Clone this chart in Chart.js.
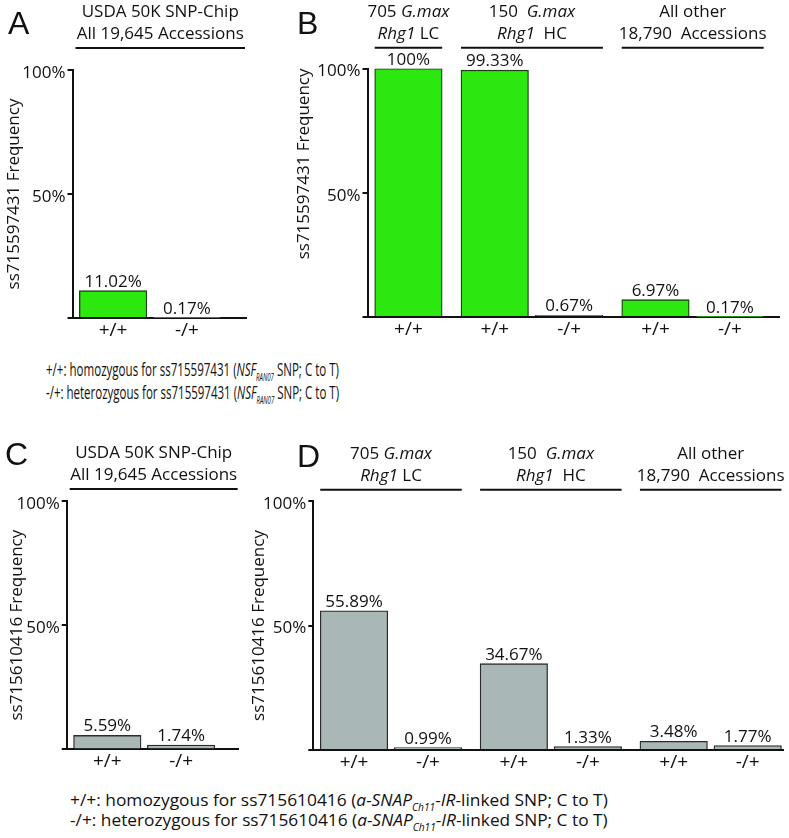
<!DOCTYPE html>
<html>
<head>
<meta charset="utf-8">
<script src="https://cdn.jsdelivr.net/npm/chart.js@4.4.1/dist/chart.umd.min.js"></script>
<style>
  html, body { margin: 0; padding: 0; background: #fff; }
  #fig { position: relative; width: 789px; height: 838px; overflow: hidden; font-family: 'Open Sans', sans-serif; color: #111; }
  #fig canvas { position: absolute; }
  .letter { position: absolute; font-family: 'Liberation Sans', Arial, sans-serif; font-size: 32px; line-height: 32px; }
  .note { position: absolute; font-size: 17px; line-height: 20px; white-space: nowrap; transform-origin: 0 50%; }
  .note.narrow { font-size: 19px; }
  .note sub { font-size: 10px; vertical-align: baseline; position: relative; top: 5px; font-style: italic; }
</style>
</head>
<body>
<div id="fig">
  <canvas id="chartA" width="280" height="345" style="left:0;top:0"></canvas>
  <canvas id="chartB" width="509" height="345" style="left:280px;top:0"></canvas>
  <canvas id="chartC" width="240" height="355" style="left:0;top:420px"></canvas>
  <canvas id="chartD" width="549" height="355" style="left:240px;top:420px"></canvas>

  <div class="letter" style="left:8px;top:7px">A</div>
  <div class="letter" style="left:297px;top:7px">B</div>
  <div class="letter" style="left:5px;top:438px">C</div>
  <div class="letter" style="left:297px;top:440px">D</div>

  <div class="note narrow" data-w="293" style="left:46px;top:359px">+/+: homozygous for ss715597431 (<i>NSF</i><sub>RAN07</sub> SNP; C to T)</div>
  <div class="note narrow" data-w="293" style="left:46px;top:382px">-/+: heterozygous for ss715597431 (<i>NSF</i><sub>RAN07</sub> SNP; C to T)</div>
  <div class="note" data-w="538" style="left:70px;top:790px">+/+: homozygous for ss715610416 (<i>a-SNAP</i><sub>Ch11</sub>-<i>IR</i>-linked SNP; C to T)</div>
  <div class="note" data-w="538" style="left:70px;top:810px">-/+: heterozygous for ss715610416 (<i>a-SNAP</i><sub>Ch11</sub>-<i>IR</i>-linked SNP; C to T)</div>
</div>
<script>
// ---- data ----
const genotypes = ['+/+', '-/+'];
const freqA = [11.02, 0.17];
const freqC = [5.59, 1.74];

const groupsBD = ['705 G.max Rhg1 LC', '150 G.max Rhg1 HC', 'All other 18,790 Accessions'];
const genotypesB = [['+/+'], ['+/+', '-/+'], ['+/+', '-/+']];
const freqB = [[100], [99.33, 0.67], [6.97, 0.17]];
const genotypesD = [['+/+', '-/+'], ['+/+', '-/+'], ['+/+', '-/+']];
const freqD = [[55.89, 0.99], [34.67, 1.33], [3.48, 1.77]];

const yTicks = [0, 50, 100];

// header lines as [text, italic] runs
const chipHeader = [[['USDA 50K SNP-Chip', false]], [['All 19,645 Accessions', false]]];
const groupHeaders = [
  [[['705 ', false], ['G.max', true]], [['Rhg1', true], [' LC', false]]],
  [[['150  ', false], ['G.max', true]], [['Rhg1', true], ['  HC', false]]],
  [[['All other', false]], [['18,790  Accessions', false]]]
];

const GREEN = '#2ce80f', GREEN_EDGE = '#1b3f12';
const GREY = '#a9b7b7', GREY_EDGE = '#2b2b2b';
const GROUP_GAP = 0.16; // extra space between genotype groups, in bar slots
const FONT = "'Open Sans', sans-serif";

Chart.defaults.font.family = FONT;
Chart.defaults.font.size = 17;
Chart.defaults.color = '#111';

function layoutBars(groups, values) {
  const xs = [], ys = [], labels = [], groupOf = [];
  let slot = 0;
  groups.forEach((g, gi) => {
    g.forEach((lab, k) => {
      xs.push(slot + gi * GROUP_GAP);
      ys.push(values[gi][k]);
      labels.push(lab);
      groupOf.push(gi);
      slot++;
    });
  });
  return { xs, ys, labels, groupOf };
}

function drawRuns(ctx, runs, cx, y) {
  const fontOf = it => (it ? 'italic ' : '') + '17px ' + FONT;
  let total = 0;
  runs.forEach(([t, it]) => { ctx.font = fontOf(it); total += ctx.measureText(t).width; });
  let x = cx - total / 2;
  ctx.textAlign = 'left';
  ctx.textBaseline = 'middle';
  ctx.fillStyle = '#111';
  runs.forEach(([t, it]) => {
    ctx.font = fontOf(it);
    ctx.fillText(t, x, y);
    x += ctx.measureText(t).width;
  });
}

const headerPlugin = {
  id: 'headers',
  afterDraw(chart, args, opts) {
    const { ctx, chartArea } = chart;
    const meta = chart.getDatasetMeta(0);
    const lineY = chartArea.top - opts.gap;
    opts.groups.forEach((lines, gi) => {
      let left, right;
      if (opts.span === 'axis') {
        left = chartArea.left + 3;
        right = chartArea.right - 1;
      } else {
        const els = meta.data.filter((el, i) => opts.groupOf[i] === gi);
        left = Math.min(...els.map(e => e.x - e.width / 2));
        right = Math.max(...els.map(e => e.x + e.width / 2));
      }
      ctx.save();
      ctx.strokeStyle = '#111';
      ctx.lineWidth = 2;
      ctx.beginPath();
      ctx.moveTo(left, lineY);
      ctx.lineTo(right, lineY);
      ctx.stroke();
      const cx = (left + right) / 2;
      lines.forEach((runs, li) => {
        const y = lineY - 13.5 - (lines.length - 1 - li) * 22.5;
        drawRuns(ctx, runs, cx, y);
      });
      ctx.restore();
    });
  }
};

const valuePlugin = {
  id: 'barValues',
  afterDatasetsDraw(chart) {
    const { ctx } = chart;
    const meta = chart.getDatasetMeta(0);
    const vals = chart.data.datasets[0].data;
    ctx.save();
    ctx.font = '17px ' + FONT;
    ctx.fillStyle = '#111';
    ctx.textAlign = 'center';
    ctx.textBaseline = 'alphabetic';
    meta.data.forEach((el, i) => {
      const v = vals[i].y;
      const txt = (Number.isInteger(v) ? v : v.toFixed(2)) + '%';
      ctx.fillText(txt, el.x, el.y - 4);
    });
    ctx.restore();
  }
};

function makePanel(id, cfg) {
  const { xs, ys, labels, groupOf } = layoutBars(cfg.groups, cfg.values);
  return new Chart(document.getElementById(id), {
    type: 'bar',
    data: {
      datasets: [{
        data: xs.map((x, i) => ({ x: x, y: ys[i] })),
        backgroundColor: cfg.color,
        borderColor: cfg.edge,
        borderWidth: 1.3,
        barThickness: 67.5
      }]
    },
    options: {
      responsive: false,
      animation: false,
      layout: { padding: { top: cfg.top, right: cfg.right, left: 0, bottom: 0 } },
      plugins: {
        legend: { display: false },
        tooltip: { enabled: false },
        headers: { groups: cfg.headers, span: cfg.span, gap: cfg.gap, groupOf: groupOf }
      },
      scales: {
        x: {
          type: 'linear',
          offset: false,
          min: -0.55,
          max: xs[xs.length - 1] + cfg.tail,
          afterBuildTicks: s => { s.ticks = xs.map(v => ({ value: v })); },
          afterFit: s => { s.height = cfg.xHeight; },
          ticks: { callback: (v, i) => labels[i], padding: 1, maxRotation: 0, autoSkip: false, font: { size: 19 } },
          grid: { display: false, drawTicks: false },
          border: { color: '#111', width: 2 }
        },
        y: {
          min: 0,
          max: 100,
          afterBuildTicks: s => { s.ticks = yTicks.map(v => ({ value: v })); },
          afterFit: s => { s.width = cfg.yWidth; },
          ticks: { callback: v => (v === 0 ? '' : v + '%'), padding: 2, labelOffset: 3 },
          grid: { drawOnChartArea: false, drawTicks: true, tickLength: 5, color: '#111', lineWidth: 2 },
          border: { color: '#111', width: 2 },
          title: { display: true, text: cfg.yTitle, align: cfg.align, padding: { top: cfg.titlePad, bottom: 0 } }
        }
      }
    },
    plugins: [headerPlugin, valuePlugin]
  });
}

makePanel('chartA', {
  groups: [genotypes], values: [freqA], color: GREEN, edge: GREEN_EDGE,
  yTitle: 'ss715597431 Frequency', align: 'center', titlePad: 4.3, yWidth: 72.5,
  top: 70, right: 34, xHeight: 27, tail: 0.8,
  headers: [chipHeader], span: 'axis', gap: 22
});
makePanel('chartB', {
  groups: genotypesB, values: freqB, color: GREEN, edge: GREEN_EDGE,
  yTitle: 'ss715597431 Frequency', align: 'end', titlePad: 13.8, yWidth: 87.5,
  top: 68.5, right: 10, xHeight: 28, tail: 0.66,
  headers: groupHeaders, span: 'bars', gap: 20.8
});
makePanel('chartC', {
  groups: [genotypes], values: [freqC], color: GREY, edge: GREY_EDGE,
  yTitle: 'ss715610416 Frequency', align: 'center', titlePad: 6.8, yWidth: 66.7,
  top: 81, right: 1.3, xHeight: 25.7, tail: 0.78,
  headers: [chipHeader], span: 'axis', gap: 12
});
makePanel('chartD', {
  groups: genotypesD, values: freqD, color: GREY, edge: GREY_EDGE,
  yTitle: 'ss715610416 Frequency', align: 'center', titlePad: 8.8, yWidth: 73.3,
  top: 81, right: 6, xHeight: 25, tail: 0.477,
  headers: groupHeaders, span: 'bars', gap: 11.3
});

// squeeze footnote lines to the width they take in the figure
document.querySelectorAll('.note').forEach(el => {
  const w = el.offsetWidth;
  el.style.transform = 'scaleX(' + (Number(el.dataset.w) / w) + ')';
});
</script>
</body>
</html>
